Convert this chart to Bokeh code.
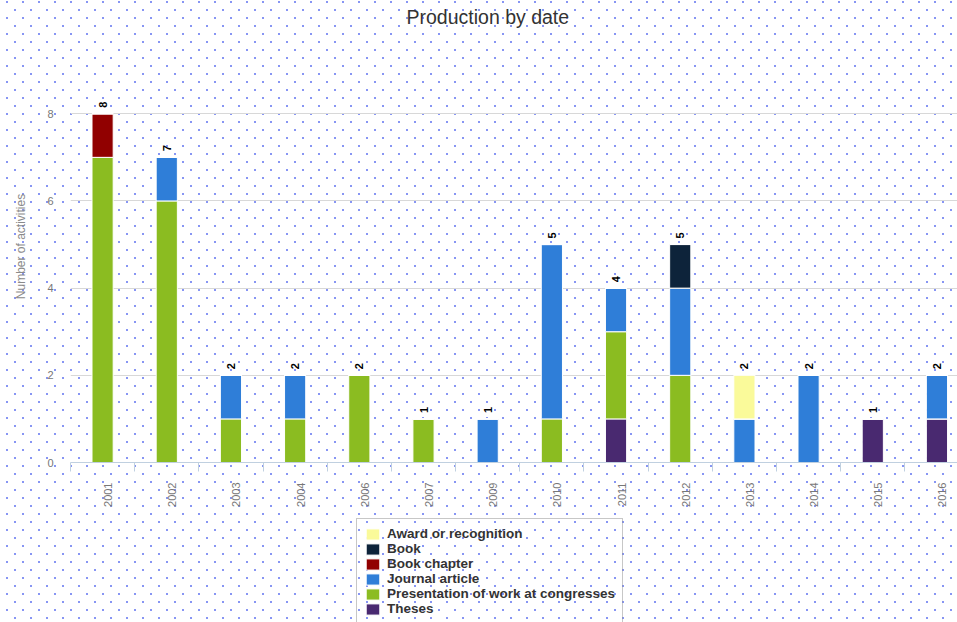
import math
from bokeh.plotting import figure
from bokeh.layouts import column
from bokeh.models import ColumnDataSource, FixedTicker, Legend, LegendItem, Range1d
from bokeh.core.properties import value
from bokeh.embed import file_html
from bokeh.resources import INLINE

# ---- data ----
years = ["2001", "2002", "2003", "2004", "2006", "2007", "2009",
         "2010", "2011", "2012", "2013", "2014", "2015", "2016"]
award = [0, 0, 0, 0, 0, 0, 0, 0, 0, 0, 1, 0, 0, 0]
book = [0, 0, 0, 0, 0, 0, 0, 0, 0, 1, 0, 0, 0, 0]
book_chapter = [1, 0, 0, 0, 0, 0, 0, 0, 0, 0, 0, 0, 0, 0]
journal = [0, 1, 1, 1, 0, 0, 1, 4, 1, 2, 1, 2, 0, 1]
presentation = [7, 6, 1, 1, 2, 1, 0, 1, 2, 2, 0, 0, 0, 0]
theses = [0, 0, 0, 0, 0, 0, 0, 0, 1, 0, 0, 0, 1, 1]

series_names = ["Award or recognition", "Book", "Book chapter", "Journal article",
                "Presentation of work at congresses", "Theses"]
series_values = [award, book, book_chapter, journal, presentation, theses]
series_colors = ["#FAFA9A", "#0D233A", "#910000", "#2F7ED8", "#8BBC21", "#492970"]
y_ticks = [0, 2, 4, 6, 8]

FONT = "Liberation Sans"
W = 957
H1 = 515
H2 = 107


def dot_styles(top):
    # dotted page background, aligned to page coordinates
    dots = [(15, 10), (7, 2)]
    pos = []
    for dx, dy in dots:
        ry = (dy - top) % 16
        pos.append("%dpx %dpx" % (dx - 8, ry - 8))
    g = "radial-gradient(circle, #7585f2 0px, #7585f2 0.6px, rgba(117,133,242,0) 1.4px)"
    return {
        "background-color": "#ffffff",
        "background-image": g + ", " + g,
        "background-size": "16px 16px",
        "background-position": ", ".join(pos),
    }


n = len(years)
xpos = [i + 0.5 for i in range(n)]
keys = ["s%d" % i for i in range(len(series_names))]
data = {"x": xpos}
for k, v in zip(keys, series_values):
    data[k] = v
src = ColumnDataSource(data)

totals = [sum(col[i] for col in series_values) for i in range(n)]
tot_src = ColumnDataSource(dict(x=xpos, total=totals, label=[str(t) for t in totals]))

p = figure(width=W, height=H1, x_range=Range1d(0, 13.82), y_range=Range1d(0, 9.91),
           output_backend="svg", toolbar_location=None,
           min_border_left=70, min_border_right=0, min_border_top=30, min_border_bottom=H1 - 462,
           background_fill_color=None, border_fill_color=None, outline_line_color=None)
p.styles = dot_styles(0)

# title
p.title.text = "Production by date"
p.title.align = "left"
p.title.offset = 336
p.title.text_font = FONT
p.title.text_font_size = "19.5px"
p.title.text_font_style = "normal"
p.title.text_color = "#333333"
p.title.standoff = 5

# stacked bars: bottom to top is reverse of legend order
stack_keys = keys[::-1]
stack_colors = series_colors[::-1]
p.vbar_stack(stack_keys, x="x", width=0.33, source=src,
             fill_color=stack_colors, line_color="white", line_width=1)

# total labels
p.text(x="x", y="total", text="label", source=tot_src, angle=math.pi / 2,
       text_align="left", text_baseline="middle", y_offset=-6,
       text_font=value(FONT), text_font_size="11px", text_font_style="bold",
       text_color="#000000")

# axes
yax = p.yaxis[0]
yax.ticker = FixedTicker(ticks=y_ticks)
yax.axis_label = "Number of activities"
yax.axis_label_text_font = FONT
yax.axis_label_text_font_size = "12px"
yax.axis_label_text_font_style = "normal"
yax.axis_label_text_color = "#8a8a8a"
yax.axis_label_standoff = 16
yax.major_label_text_font = FONT
yax.major_label_text_font_size = "11px"
yax.major_label_text_color = "#777777"
yax.major_label_standoff = 17
yax.axis_line_color = None
yax.major_tick_line_color = None
yax.minor_tick_line_color = None
yax.major_tick_out = 0

xticks = [round(x + 0.085, 3) for x in xpos]
xax = p.xaxis[0]
xax.ticker = FixedTicker(ticks=xticks, minor_ticks=list(range(n + 1)))
xax.major_label_overrides = {t: y for t, y in zip(xticks, years)}
xax.major_label_orientation = math.pi / 2
xax.major_label_text_font = FONT
xax.major_label_text_font_size = "11px"
xax.major_label_text_color = "#777777"
xax.major_label_standoff = 11
xax.major_tick_line_color = None
xax.major_tick_out = 0
xax.major_tick_in = 0
xax.minor_tick_line_color = "#C0D0E0"
xax.minor_tick_out = 9
xax.minor_tick_in = 0
xax.axis_line_color = "#C0D0E0"

p.xgrid.visible = False
p.ygrid.grid_line_color = "#D8D8D8"

# legend strip below the chart (proxy renderers lie outside its ranges)
p2 = figure(width=W, height=H2, x_range=Range1d(-100, -99), y_range=Range1d(-100, -99),
            output_backend="svg", toolbar_location=None,
            x_axis_location=None, y_axis_location=None,
            min_border=0, min_border_left=0, min_border_right=0, min_border_top=0, min_border_bottom=0,
            background_fill_color=None, border_fill_color=None, outline_line_color=None)
p2.styles = dot_styles(H1)
p2.grid.visible = False

items = []
for name, key, color in zip(series_names, keys, series_colors):
    r = p2.vbar(x="x", top=key, width=0.33, source=src,
                fill_color=color, line_color="white", line_width=1)
    items.append(LegendItem(label=name, renderers=[r]))

legend = Legend(items=items, location=(286, -2))
legend.label_text_font = FONT
legend.label_text_font_size = "13.5px"
legend.label_text_font_style = "bold"
legend.label_text_color = "#333333"
legend.glyph_width = 17
legend.glyph_height = 14
legend.label_height = 15
legend.spacing = 0
legend.padding = 7
legend.margin = 0
legend.label_standoff = 6
legend.border_line_color = "#909090"
legend.border_line_width = 1.5
legend.background_fill_alpha = 0
p2.add_layout(legend)

layout = column(p, p2, spacing=0)
open("out.html", "w").write(file_html(layout, INLINE))
